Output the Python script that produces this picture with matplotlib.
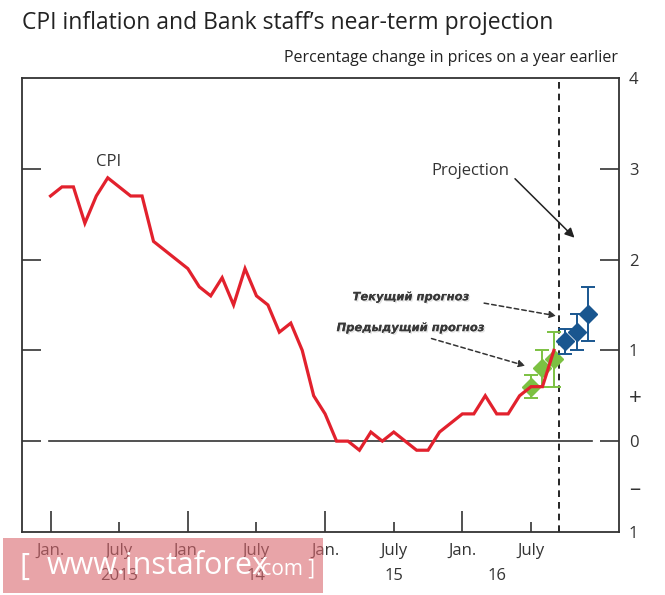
import matplotlib
matplotlib.use('Agg')
import matplotlib.pyplot as plt
import matplotlib.patheffects as pe
from matplotlib.patches import Rectangle

plt.rcParams['font.family'] = ['Open Sans', 'DejaVu Sans']

# months counted from Jan 2013 = 0
cpi_months = list(range(0, 45))
cpi = [2.7, 2.8, 2.8, 2.4, 2.7, 2.9, 2.8, 2.7, 2.7, 2.2, 2.1, 2.0,
       1.9, 1.7, 1.6, 1.8, 1.5, 1.9, 1.6, 1.5, 1.2, 1.3, 1.0, 0.5,
       0.3, 0.0, 0.0, -0.1, 0.1, 0.0, 0.1, 0.0, -0.1, -0.1, 0.1, 0.2,
       0.3, 0.3, 0.5, 0.3, 0.3, 0.5, 0.6, 0.6, 1.0]

prev_months = [42, 43, 44]
prev_proj = [0.6, 0.8, 0.9]
prev_low = [0.47, 0.6, 0.6]
prev_high = [0.73, 1.0, 1.2]

cur_months = [45, 46, 47]
cur_proj = [1.1, 1.2, 1.4]
cur_low = [0.96, 1.0, 1.1]
cur_high = [1.24, 1.4, 1.7]

jan_ticks = [0, 12, 24, 36]
july_ticks = [6, 18, 30, 42]
year_pos = [6, 18, 30, 39]
year_labels = ['2013', '14', '15', '16']
projection_start = 44.47

ytick_vals = [-1, -0.5, 0, 0.5, 1, 2, 3, 4]
ytick_labels = ['1', '\u2013', '0', '+', '1', '2', '3', '4']

fig = plt.figure(figsize=(6.65, 5.95), dpi=100)
ax = fig.add_axes([0.033, 0.106, 0.898, 0.763])

ax.set_xlim(-2.5, 49.7)
ax.set_ylim(-1, 4)

ax.axhline(0, xmin=0.045, xmax=0.955, color='#333333', lw=1.2, zorder=1)
ax.axvline(projection_start, color='black', lw=1.2, ls=(0, (4, 3)), zorder=2)

ax.plot(cpi_months, cpi, color='#e2212d', lw=2.3, zorder=4, solid_joinstyle='miter')

def err(vals, low, high):
    return [[v - l for v, l in zip(vals, low)], [h - v for v, h in zip(vals, high)]]

ax.errorbar(prev_months, prev_proj, yerr=err(prev_proj, prev_low, prev_high),
            fmt='D', color='#7cc142', ms=9, capsize=5, elinewidth=1.4,
            capthick=1.4, zorder=3)
ax.errorbar(cur_months, cur_proj, yerr=err(cur_proj, cur_low, cur_high),
            fmt='D', color='#19568f', ms=9.5, capsize=5, elinewidth=1.4,
            capthick=1.4, zorder=5)

# axes styling
for s in ax.spines.values():
    s.set_color('#333333')
    s.set_linewidth(1.3)

ax.set_yticks(ytick_vals)
ax.set_yticklabels(ytick_labels)
ax.tick_params(axis='y', direction='in', length=13.5, width=1.2, color='#333333',
               left=True, right=True, labelleft=False, labelright=True,
               labelsize=12, pad=7, labelcolor='#333333')
for v, t in zip(ytick_vals, ax.yaxis.get_major_ticks()):
    if v not in (0, 1, 2, 3):
        t.tick1line.set_visible(False)
        t.tick2line.set_visible(False)
    if v in (0.5, -0.5):
        t.label2.set_fontsize(16)

ax.set_xticks(jan_ticks)
ax.set_xticklabels(['Jan.'] * len(jan_ticks))
ax.set_xticks(july_ticks, minor=True)
ax.set_xticklabels(['July'] * len(july_ticks), minor=True)
ax.tick_params(axis='x', which='major', direction='in', length=15, width=1.2,
               color='#333333', labelsize=12, pad=8, labelcolor='#333333')
ax.tick_params(axis='x', which='minor', direction='in', length=7.5, width=1.2,
               color='#333333', labelsize=12, pad=8, labelcolor='#333333')

for p, lab in zip(year_pos, year_labels):
    ax.text(p, -1.48, lab, ha='center', va='center', fontsize=12, color='#333333')

# labels and annotations
ax.text(5.1, 3.07, 'CPI', fontsize=12, color='#333333', ha='center', va='center')
ax.text(33.3, 2.97, 'Projection', fontsize=12, color='#333333', ha='left', va='center')
ax.annotate('', xy=(45.8, 2.24), xytext=(40.6, 2.89),
            arrowprops=dict(arrowstyle='-|>', color='#222222', lw=1.1,
                            mutation_scale=14, shrinkA=0, shrinkB=0))

shadow = [pe.withSimplePatchShadow(offset=(1, -1), shadow_rgbFace='#aaaaaa', alpha=0.35), pe.Normal()]
ax.text(26.4, 1.59, 'Текущий прогноз', family='DejaVu Sans', fontsize=8.3,
        fontweight='bold', fontstyle='italic', color='#383838', va='center',
        path_effects=shadow)
ax.text(25.0, 1.25, 'Предыдущий прогноз', family='DejaVu Sans', fontsize=8.3,
        fontweight='bold', fontstyle='italic', color='#383838', va='center',
        path_effects=shadow)
ax.annotate('', xy=(44.2, 1.38), xytext=(37.9, 1.52),
            arrowprops=dict(arrowstyle='-|>', color='#333333', lw=1.1, ls=(0, (3, 2)),
                            mutation_scale=10, shrinkA=0, shrinkB=0))
ax.annotate('', xy=(41.5, 0.83), xytext=(33.3, 1.13),
            arrowprops=dict(arrowstyle='-|>', color='#333333', lw=1.1, ls=(0, (3, 2)),
                            mutation_scale=10, shrinkA=0, shrinkB=0))

fig.text(0.033, 0.962, 'CPI inflation and Bank staff\u2019s near-term projection',
         fontsize=16.5, color='#222222', ha='left', va='center')
fig.text(0.930, 0.902, 'Percentage change in prices on a year earlier',
         fontsize=11.5, color='#222222', ha='right', va='center')

# watermark box
fig.patches.append(Rectangle((0.005, 0.003), 0.48, 0.093, transform=fig.transFigure,
                             facecolor='#d9676e', alpha=0.6, edgecolor='none', zorder=10))
fig.text(0.03, 0.048, '[', fontsize=22, color='white', va='center', zorder=11)
fig.text(0.07, 0.048, 'www.instaforex', fontsize=22, color='white', va='center', zorder=11)
fig.text(0.385, 0.043, '.com ]', fontsize=15, color='white', va='center', zorder=11)

fig.savefig('out.png', dpi=100)
